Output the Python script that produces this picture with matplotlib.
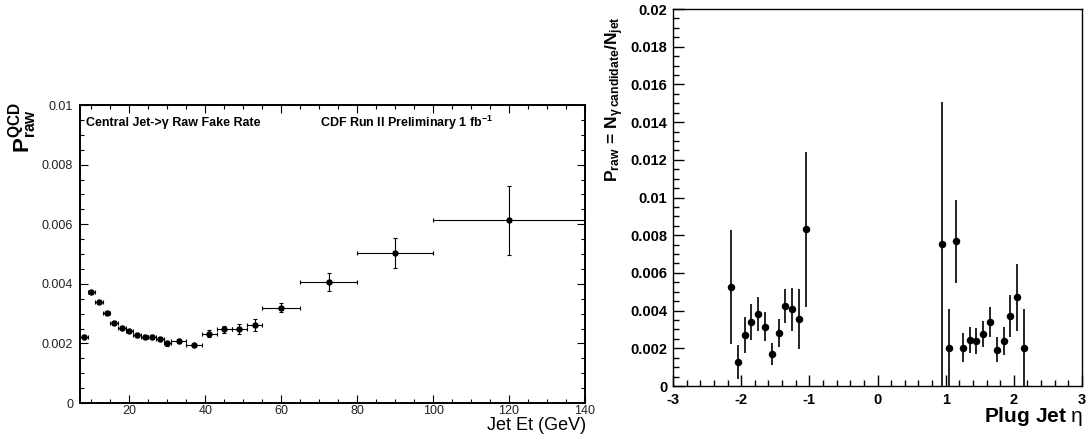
import matplotlib
matplotlib.use("Agg")
import matplotlib.pyplot as plt
from matplotlib.ticker import MultipleLocator, FuncFormatter

plt.rcParams['font.family'] = ['Liberation Sans', 'DejaVu Sans']
plt.rcParams['mathtext.fontset'] = 'custom'
plt.rcParams['mathtext.rm'] = 'Liberation Sans'
plt.rcParams['mathtext.bf'] = 'Liberation Sans:bold'
plt.rcParams['mathtext.it'] = 'Liberation Sans:italic'
plt.rcParams['axes.unicode_minus'] = False

# Central jet -> gamma raw fake rate vs jet Et
et_edges = [7, 9, 11, 13, 15, 17, 19, 21, 23, 25, 27, 29, 31, 35, 39, 43, 47, 51, 55, 65, 80, 100, 140]
rate = [0.00222, 0.00372, 0.00340, 0.00303, 0.00270, 0.00252, 0.00243, 0.00229, 0.00221, 0.00221,
        0.00216, 0.00200, 0.00207, 0.00193, 0.00233, 0.00247, 0.00248, 0.00263, 0.00320, 0.00405,
        0.00503, 0.00613]
rate_err = [0.00005, 0.00005, 0.00005, 0.00005, 0.00005, 0.00005, 0.00006, 0.00006, 0.00006, 0.00006,
            0.00007, 0.00008, 0.00007, 0.00006, 0.00012, 0.00013, 0.00017, 0.00020, 0.00016, 0.00030,
            0.00051, 0.00116]

# Plug jet raw rate vs eta
eta = [-2.15, -2.05, -1.95, -1.85, -1.75, -1.65, -1.55, -1.45, -1.35, -1.25, -1.15, -1.05,
       0.95, 1.05, 1.15, 1.25, 1.35, 1.45, 1.55, 1.65, 1.75, 1.85, 1.95, 2.05, 2.15]
praw = [0.00526, 0.00128, 0.00271, 0.00340, 0.00383, 0.00315, 0.00170, 0.00280, 0.00422, 0.00406,
        0.00354, 0.00831,
        0.00753, 0.00204, 0.00769, 0.00204, 0.00243, 0.00239, 0.00275, 0.00340, 0.00193, 0.00239,
        0.00372, 0.00471, 0.00204]
praw_err = [0.00301, 0.00090, 0.00096, 0.00094, 0.00090, 0.00078, 0.00056, 0.00073, 0.00090, 0.00113,
            0.00160, 0.00410,
            0.00753, 0.00204, 0.00220, 0.00075, 0.00070, 0.00067, 0.00070, 0.00080, 0.00065, 0.00073,
            0.00110, 0.00177, 0.00204]

et_center = [(a + b) / 2 for a, b in zip(et_edges[:-1], et_edges[1:])]
et_halfw = [(b - a) / 2 for a, b in zip(et_edges[:-1], et_edges[1:])]

fig = plt.figure(figsize=(10.88, 4.45), dpi=100)
W, H = 1088, 445

def box(l, t, r, b):
    return [l / W, (H - b) / H, (r - l) / W, (b - t) / H]

fmt = FuncFormatter(lambda v, p: '%g' % round(v, 6))

# ---- left panel
ax1 = fig.add_axes(box(80, 105, 585, 403))
ax1.errorbar(et_center, rate, yerr=rate_err, xerr=et_halfw, fmt='o', color='black',
             markersize=3.6, elinewidth=0.8, capsize=1.2, capthick=0.8)
ax1.set_xlim(7, 140)
ax1.set_ylim(0, 0.01)
ax1.xaxis.set_major_locator(MultipleLocator(20))
ax1.xaxis.set_minor_locator(MultipleLocator(5))
ax1.yaxis.set_major_locator(MultipleLocator(0.002))
ax1.yaxis.set_minor_locator(MultipleLocator(0.0005))
ax1.xaxis.set_major_formatter(fmt)
ax1.yaxis.set_major_formatter(fmt)
ax1.tick_params(which='both', direction='in', top=True, right=True, labelsize=9, width=0.8,
                labelcolor='#222222')
ax1.tick_params(which='major', length=6)
ax1.tick_params(which='minor', length=3)
ax1.tick_params(axis='y', pad=5)
ax1.tick_params(axis='x', pad=1.5)
for s in ax1.spines.values():
    s.set_linewidth(1.4)
ax1.text(0.012, 0.94, 'Central Jet->\u03b3 Raw Fake Rate', transform=ax1.transAxes,
         fontsize=9, fontweight='bold', va='center', ha='left')
ax1.text(0.475, 0.94, r'CDF Run II Preliminary 1 fb$^{\mathbf{-1}}$', transform=ax1.transAxes,
         fontsize=9, fontweight='bold', va='center', ha='left')
fig.text(23 / W, (H - 102) / H, r'$\mathbf{P^{QCD}_{raw}}$', rotation=90, fontsize=16,
         ha='center', va='top')
fig.text(586 / W, (H - 425) / H, 'Jet Et (GeV)', fontsize=13, ha='right', va='center')

# ---- right panel
ax2 = fig.add_axes(box(673, 9, 1082, 386))
ax2.errorbar(eta, praw, yerr=praw_err, fmt='o', color='black', markersize=4.4,
             elinewidth=1.2, capsize=0)
ax2.set_xlim(-3, 3)
ax2.set_ylim(0, 0.02)
ax2.xaxis.set_major_locator(MultipleLocator(1))
ax2.xaxis.set_minor_locator(MultipleLocator(0.2))
ax2.yaxis.set_major_locator(MultipleLocator(0.002))
ax2.yaxis.set_minor_locator(MultipleLocator(0.0005))
ax2.xaxis.set_major_formatter(fmt)
ax2.yaxis.set_major_formatter(fmt)
ax2.tick_params(which='both', direction='in', labelsize=10.5, width=1.0)
ax2.tick_params(which='major', length=8)
ax2.tick_params(which='minor', length=4)
ax2.tick_params(axis='y', pad=4)
ax2.tick_params(axis='x', pad=5)
for lab in ax2.get_xticklabels() + ax2.get_yticklabels():
    lab.set_fontweight('bold')
for s in ax2.spines.values():
    s.set_linewidth(1.0)
fig.text(615 / W, (H - 16) / H,
         r'$\mathbf{P_{raw}\,=\,N_{\gamma\,candidate}/N_{jet}}$',
         rotation=90, fontsize=12.5, ha='center', va='top')
fig.text(1083 / W, (H - 417) / H, r'$\mathbf{Plug\ Jet}\ \mathrm{\eta}$', fontsize=15,
         ha='right', va='center')

fig.savefig('out.png', dpi=100)
